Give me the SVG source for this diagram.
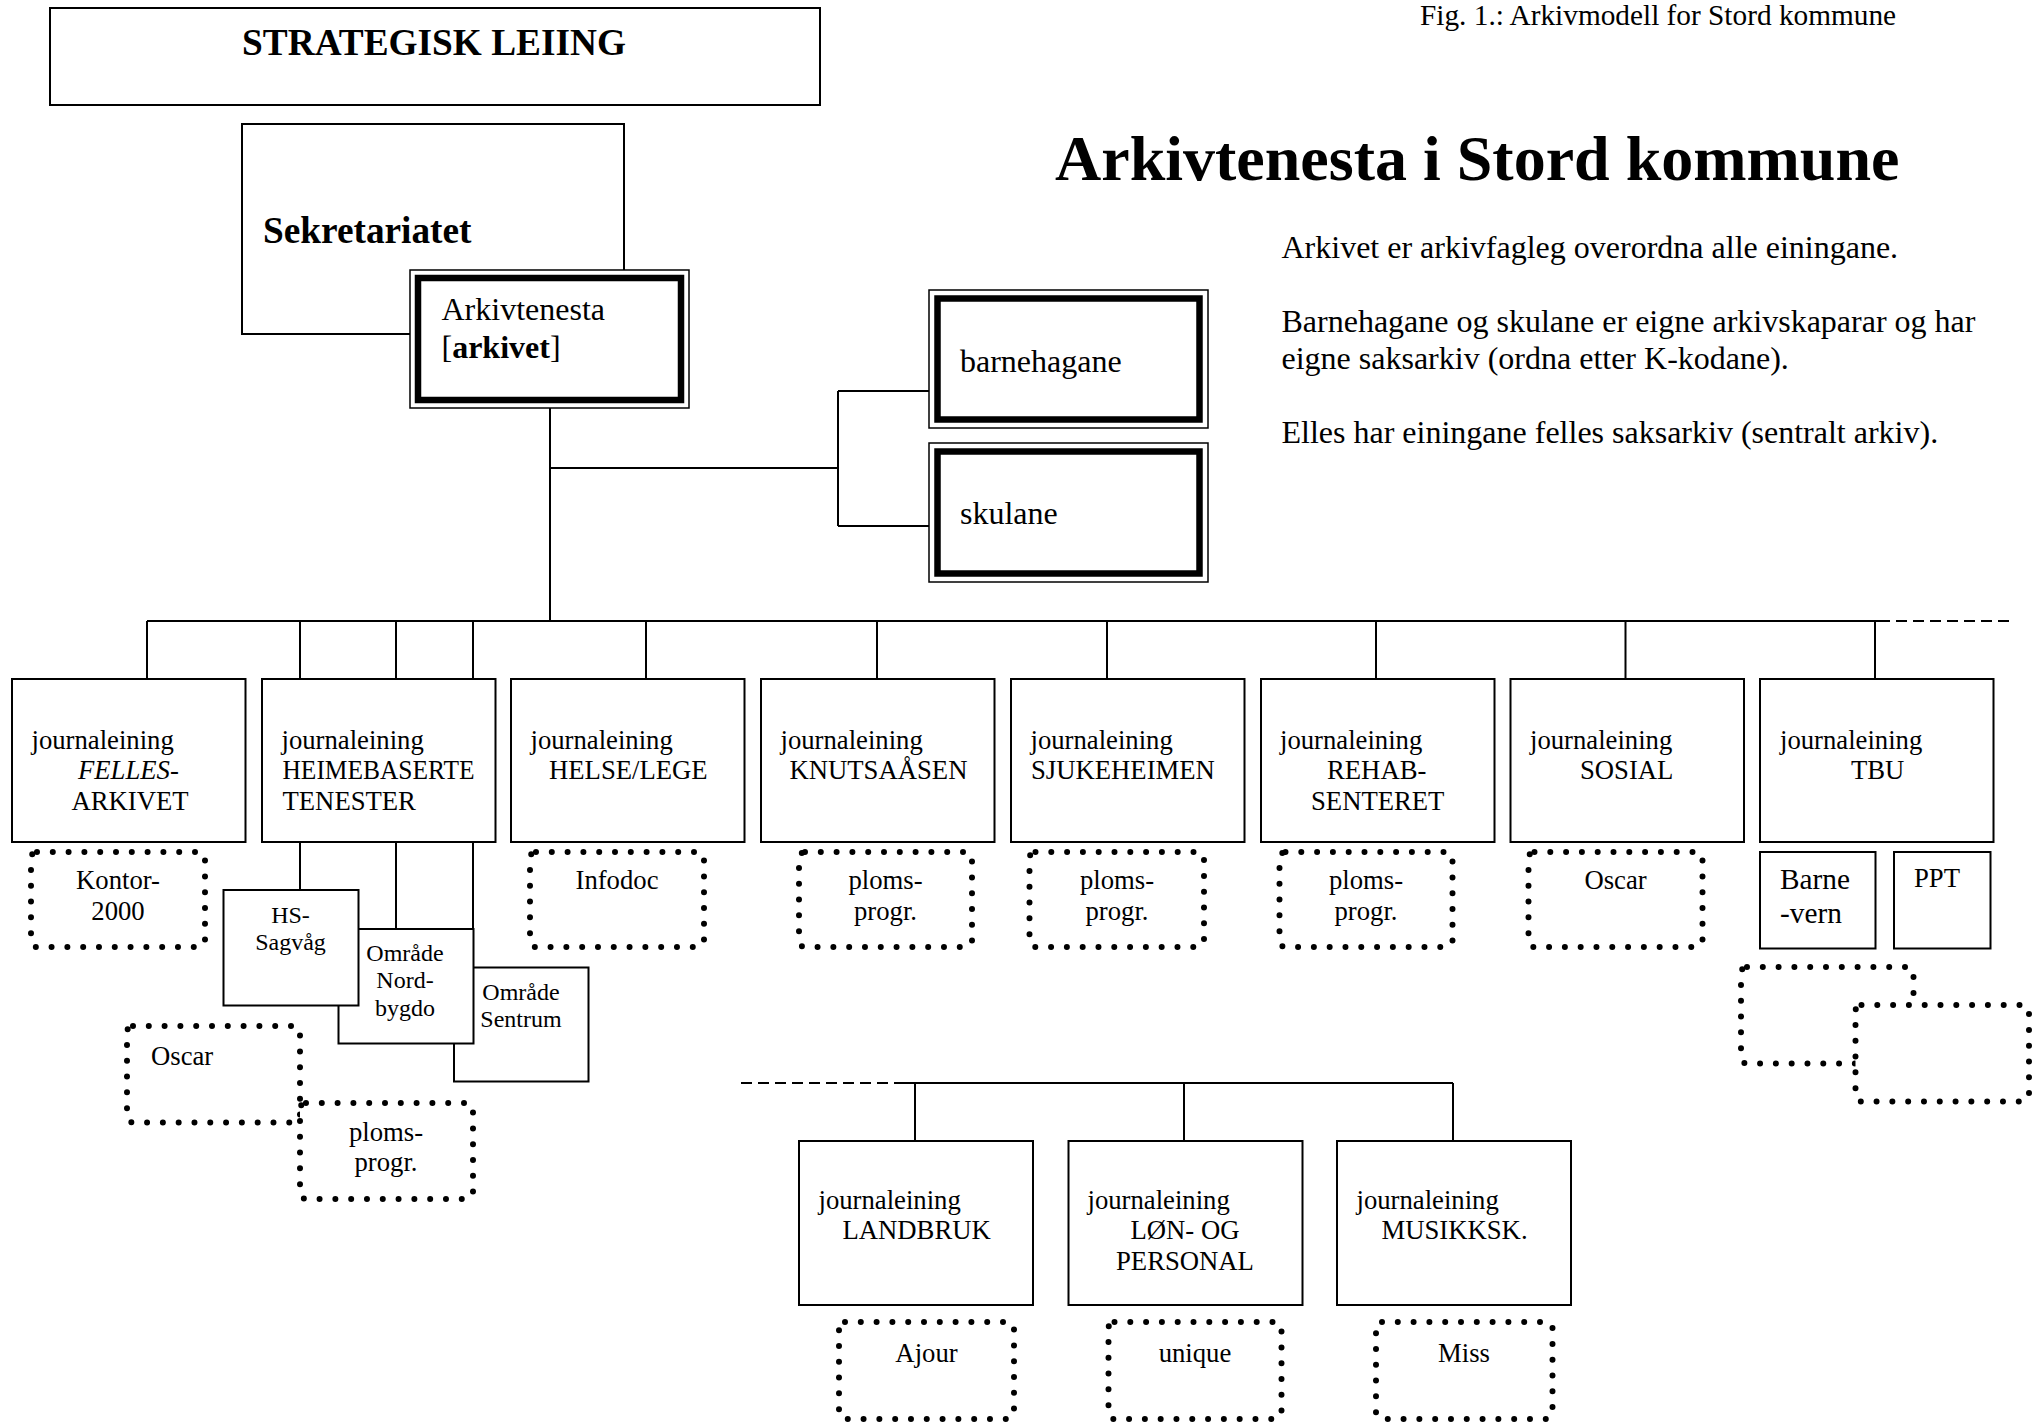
<svg xmlns="http://www.w3.org/2000/svg" width="2037" height="1423" viewBox="0 0 2037 1423">
<style>
text{font-family:"Liberation Serif","Times New Roman",serif;fill:#000}
.b{font-weight:bold}
.s24{font-size:24px}
.s26{font-size:26.7px}
.s29{font-size:29.3px}
.s32{font-size:32px}
.s37{font-size:37.3px}
.s64{font-size:64px}
.box{fill:#fff;stroke:#000;stroke-width:2}
.outer{fill:#fff;stroke:#000;stroke-width:1.5}
.thick{fill:none;stroke:#000;stroke-width:6.5}
.dot{fill:#fff;stroke:#000;stroke-width:6;stroke-dasharray:0 15.8;stroke-linecap:round}
.ln{fill:none;stroke:#000;stroke-width:2}
.dash{stroke-dasharray:11 6}
.m{text-anchor:middle}
</style>
<rect width="2037" height="1423" fill="#fff"/>

<g id="connectors">
<path class="ln" d="M550 408V621M550 468H838M838 391V526M838 391H929M838 526H929"/>
<path class="ln" d="M147 621H1879"/>
<path class="ln dash" d="M1879 621H2011"/>
<path class="ln" d="M147 621V679M300 621V679M396 621V679M473 621V679M646 621V679M877 621V679M1107 621V679M1376 621V679M1625.5 621V679M1875 621V679"/>
<path class="ln" d="M300 842V890M396 842V929M473 842V967"/>
<path class="ln dash" d="M741 1083H895"/>
<path class="ln" d="M895 1083H1453M915 1083V1141M1184 1083V1141M1453 1083V1141"/>
</g>

<g id="strategisk">
<rect class="box" x="50" y="8" width="770" height="97"/>
<text class="b s37 m" x="434" y="55">STRATEGISK LEIING</text>
</g>

<g id="sekretariatet">
<rect class="box" x="242" y="124" width="382" height="210"/>
<text class="b s37" x="263" y="243">Sekretariatet</text>
</g>

<g id="arkivtenesta">
<rect class="outer" x="410" y="270" width="279" height="138"/>
<rect class="thick" x="418" y="278" width="263" height="122"/>
<text class="s32" x="441.5" y="320">Arkivtenesta</text>
<text class="s32" x="441.5" y="358">[<tspan class="b">arkivet</tspan>]</text>
</g>

<g id="barnehagane">
<rect class="outer" x="929" y="290" width="279" height="138"/>
<rect class="thick" x="937.5" y="298.5" width="262" height="121"/>
<text class="s32" x="960" y="371.5">barnehagane</text>
</g>

<g id="skulane">
<rect class="outer" x="929" y="443" width="279" height="139"/>
<rect class="thick" x="937.5" y="451.5" width="262" height="122"/>
<text class="s32" x="960" y="524">skulane</text>
</g>

<g id="caption">
<text class="s29" x="1420" y="25">Fig. 1.: Arkivmodell for Stord kommune</text>
</g>
<g id="title">
<text class="b s64" x="1055" y="180">Arkivtenesta i Stord kommune</text>
</g>
<g id="notes">
<text class="s32" x="1281.5" y="258">Arkivet er arkivfagleg overordna alle einingane.</text>
<text class="s32" x="1281.5" y="331.5">Barnehagane og skulane er eigne arkivskaparar og har</text>
<text class="s32" x="1281.5" y="368.5">eigne saksarkiv (ordna etter K-kodane).</text>
<text class="s32" x="1281.5" y="443">Elles har einingane felles saksarkiv (sentralt arkiv).</text>
</g>

<g id="felles">
<rect class="box" x="12" y="679" width="233.5" height="163"/>
<text class="s26" x="31.5" y="748.5">journaleining</text>
<text class="s26" x="78" y="779"><tspan font-style="italic">FELLES</tspan>-</text>
<text class="s26" x="71.5" y="809.5">ARKIVET</text>
</g>
<g id="heimebaserte">
<rect class="box" x="262" y="679" width="233.5" height="163"/>
<text class="s26" x="281.5" y="748.5">journaleining</text>
<text class="s26" x="282.5" y="779" textLength="192" lengthAdjust="spacingAndGlyphs">HEIMEBASERTE</text>
<text class="s26" x="282.5" y="809.5">TENESTER</text>
</g>
<g id="helse">
<rect class="box" x="511" y="679" width="233.5" height="163"/>
<text class="s26" x="530.5" y="748.5">journaleining</text>
<text class="s26" x="549" y="779">HELSE/LEGE</text>
</g>
<g id="knutsaasen">
<rect class="box" x="761" y="679" width="233.5" height="163"/>
<text class="s26" x="780.5" y="748.5">journaleining</text>
<text class="s26" x="789.5" y="779">KNUTSAÅSEN</text>
</g>
<g id="sjukeheimen">
<rect class="box" x="1011" y="679" width="233.5" height="163"/>
<text class="s26" x="1030.5" y="748.5">journaleining</text>
<text class="s26" x="1031" y="779">SJUKEHEIMEN</text>
</g>
<g id="rehab">
<rect class="box" x="1261" y="679" width="233.5" height="163"/>
<text class="s26" x="1280" y="748.5">journaleining</text>
<text class="s26" x="1327" y="779">REHAB-</text>
<text class="s26" x="1311" y="809.5">SENTERET</text>
</g>
<g id="sosial">
<rect class="box" x="1510.5" y="679" width="233.5" height="163"/>
<text class="s26" x="1530" y="748.5">journaleining</text>
<text class="s26" x="1580" y="779">SOSIAL</text>
</g>
<g id="tbu">
<rect class="box" x="1760" y="679" width="233.5" height="163"/>
<text class="s26" x="1780" y="748.5">journaleining</text>
<text class="s26" x="1851" y="779">TBU</text>
</g>

<g id="kontor2000">
<rect class="dot" x="31" y="852" width="174" height="95" rx="6"/>
<text class="s26 m" x="118" y="889">Kontor-</text>
<text class="s26 m" x="118" y="920">2000</text>
</g>
<g id="infodoc">
<rect class="dot" x="530" y="852" width="174" height="95" rx="6"/>
<text class="s26 m" x="617" y="889">Infodoc</text>
</g>
<g id="ploms-knuts">
<rect class="dot" x="799" y="852" width="173" height="95" rx="6"/>
<text class="s26 m" x="885.5" y="889">ploms-</text>
<text class="s26 m" x="885.5" y="920">progr.</text>
</g>
<g id="ploms-sjuke">
<rect class="dot" x="1029.5" y="852" width="174.5" height="95" rx="6"/>
<text class="s26 m" x="1117" y="889">ploms-</text>
<text class="s26 m" x="1117" y="920">progr.</text>
</g>
<g id="ploms-rehab">
<rect class="dot" x="1279.5" y="852" width="173" height="95" rx="6"/>
<text class="s26 m" x="1366" y="889">ploms-</text>
<text class="s26 m" x="1366" y="920">progr.</text>
</g>
<g id="oscar-sosial">
<rect class="dot" x="1528.5" y="852" width="174" height="95" rx="6"/>
<text class="s26 m" x="1615.5" y="889">Oscar</text>
</g>

<g id="barnevern">
<rect class="box" x="1760" y="852" width="115.5" height="96.5"/>
<text class="s29" x="1780" y="888.5">Barne</text>
<text class="s29" x="1780" y="922.5">-vern</text>
</g>
<g id="ppt">
<rect class="box" x="1894" y="852" width="96.5" height="96.5"/>
<text class="s26" x="1914" y="887">PPT</text>
</g>
<g id="tbu-dot-a">
<rect class="dot" x="1741" y="967" width="172.5" height="96.5" rx="6"/>
</g>
<g id="tbu-dot-b">
<rect class="dot" x="1855.5" y="1005" width="173.5" height="96.5" rx="6"/>
</g>

<g id="omrade-sentrum">
<rect class="box" x="454" y="967.5" width="134.5" height="114"/>
<text class="s24 m" x="521" y="999.5">Område</text>
<text class="s24 m" x="521" y="1027">Sentrum</text>
</g>
<g id="omrade-nordbygdo">
<rect class="box" x="338.5" y="929" width="135" height="114.5"/>
<text class="s24 m" x="405" y="960.5">Område</text>
<text class="s24 m" x="405" y="988">Nord-</text>
<text class="s24 m" x="405" y="1015.5">bygdo</text>
</g>
<g id="hs-sagvag">
<rect class="box" x="223.5" y="890" width="135" height="115.5"/>
<text class="s24 m" x="290.5" y="923">HS-</text>
<text class="s24 m" x="290.5" y="950">Sagvåg</text>
</g>
<g id="oscar-heim">
<rect class="dot" x="127" y="1026" width="173" height="96.5" rx="6"/>
<text class="s26" x="151" y="1064.5">Oscar</text>
</g>
<g id="ploms-heim">
<rect class="dot" x="300" y="1103" width="173" height="96" rx="6"/>
<text class="s26 m" x="386" y="1140.5">ploms-</text>
<text class="s26 m" x="386" y="1171">progr.</text>
</g>

<g id="landbruk">
<rect class="box" x="799" y="1141" width="234" height="164"/>
<text class="s26" x="818.5" y="1208.5">journaleining</text>
<text class="s26" x="842.5" y="1239">LANDBRUK</text>
</g>
<g id="lon-personal">
<rect class="box" x="1068.5" y="1141" width="234" height="164"/>
<text class="s26" x="1087.5" y="1208.5">journaleining</text>
<text class="s26" x="1130.5" y="1239">LØN- OG</text>
<text class="s26" x="1116" y="1269.5">PERSONAL</text>
</g>
<g id="musikksk">
<rect class="box" x="1337" y="1141" width="234" height="164"/>
<text class="s26" x="1356.5" y="1208.5">journaleining</text>
<text class="s26" x="1381.5" y="1239">MUSIKKSK.</text>
</g>
<g id="ajour">
<rect class="dot" x="839" y="1322" width="175" height="97" rx="6"/>
<text class="s26 m" x="926.5" y="1361.5">Ajour</text>
</g>
<g id="unique">
<rect class="dot" x="1108.5" y="1322" width="173" height="97" rx="6"/>
<text class="s26 m" x="1195" y="1361.5">unique</text>
</g>
<g id="miss">
<rect class="dot" x="1376" y="1322" width="176.5" height="97" rx="6"/>
<text class="s26 m" x="1464" y="1361.5">Miss</text>
</g>
</svg>
